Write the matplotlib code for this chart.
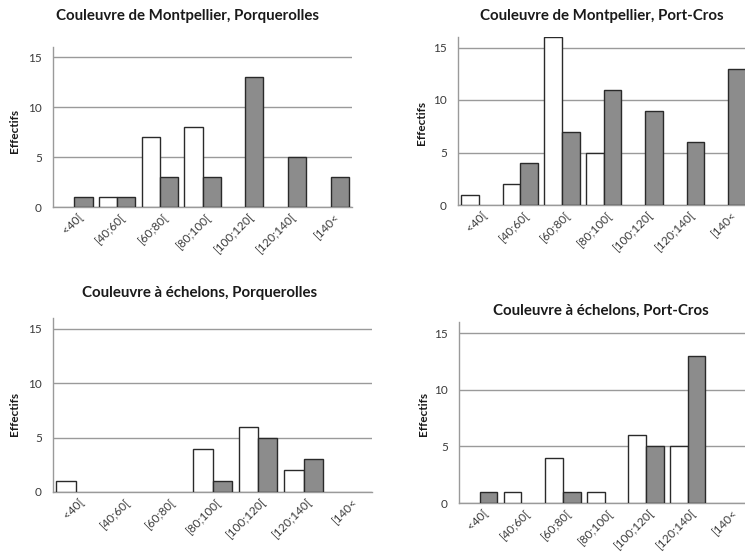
import numpy as np
import matplotlib.pyplot as plt
from matplotlib.transforms import ScaledTranslation

plt.rcParams['font.family'] = ['Lato', 'DejaVu Sans']

categories = ['<40[', '[40;60[', '[60;80[', '[80;100[', '[100;120[', '[120;140[', '[140<']

titles = [
    'Couleuvre de Montpellier, Porquerolles',
    'Couleuvre de Montpellier, Port-Cros',
    'Couleuvre à échelons, Porquerolles',
    'Couleuvre à échelons, Port-Cros',
]

# effectifs : barres blanches (gauche) et grises (droite)
mont_porq_white = [0, 1, 7, 8, 0, 0, 0]
mont_porq_gray = [1, 1, 3, 3, 13, 5, 3]
mont_pc_white = [1, 2, 16, 5, 0, 0, 0]
mont_pc_gray = [0, 4, 7, 11, 9, 6, 13]
ech_porq_white = [1, 0, 0, 4, 6, 2, 0]
ech_porq_gray = [0, 0, 0, 1, 5, 3, 0]
ech_pc_white = [0, 1, 4, 1, 6, 5, 0]
ech_pc_gray = [1, 0, 1, 0, 5, 13, 0]

W, H = 745, 552
fig = plt.figure(figsize=(W / 100, H / 100), dpi=100)

# positions en pixels : gauche, droite, y(0), y(16), titre (x, y), label (x, y)
panels = [
    (53, 352, 207, 47, (188, 16), (15, 131), mont_porq_white, mont_porq_gray),
    (458, 749, 205, 37, (602, 16), (422, 123), mont_pc_white, mont_pc_gray),
    (53, 372, 492, 318, (200, 293), (15, 414), ech_porq_white, ech_porq_gray),
    (459, 750, 503, 322, (601, 311), (424, 414), ech_pc_white, ech_pc_gray),
]

x = np.arange(len(categories))
bw = 0.425
line_col = '#9a9a9a'


def draw_bars(ax, xs, vals, color):
    vals = np.asarray(vals)
    keep = vals > 0  # pas de trait pour les effectifs nuls
    ax.bar(xs[keep], vals[keep], bw, color=color, edgecolor='#2a2a2a', linewidth=1, zorder=3)


for i, (l, r, y0, y16, tpos, lpos, white, gray) in enumerate(panels):
    ax = fig.add_axes([l / W, 1 - y0 / H, (r - l) / W, (y0 - y16) / H])
    draw_bars(ax, x - bw / 2, white, 'white')
    draw_bars(ax, x + bw / 2, gray, '#8c8c8c')
    ax.set_xlim(-0.5, len(categories) - 0.5)
    ax.set_ylim(0, 16)
    ax.set_yticks([0, 5, 10, 15])
    ax.yaxis.grid(True, color=line_col, linewidth=1)
    ax.set_axisbelow(True)
    for s in ['top', 'right']:
        ax.spines[s].set_visible(False)
    for s in ['left', 'bottom']:
        ax.spines[s].set_color(line_col)
        ax.spines[s].set_linewidth(1)
    ax.tick_params(axis='y', length=0, pad=8, labelsize=8.5, labelcolor='#3a3a3a')
    ax.tick_params(axis='x', length=0, pad=3, labelsize=8.5, labelcolor='#3a3a3a')
    ax.set_xticks(x)
    ax.set_xticklabels(categories, rotation=45, ha='right', rotation_mode='anchor')
    off = ScaledTranslation(3 / 100, 0, fig.dpi_scale_trans)
    for lab in ax.get_xticklabels():
        lab.set_transform(lab.get_transform() + off)
    fig.text(tpos[0] / W, 1 - tpos[1] / H, titles[i], ha='center', va='center',
             fontsize=10.8, fontweight='bold', color='#1a1a1a')
    fig.text(lpos[0] / W, 1 - lpos[1] / H, 'Effectifs', ha='center', va='center',
             rotation=90, fontsize=8.5, fontweight='bold', color='#1a1a1a')

fig.savefig('out.png', dpi=100)
